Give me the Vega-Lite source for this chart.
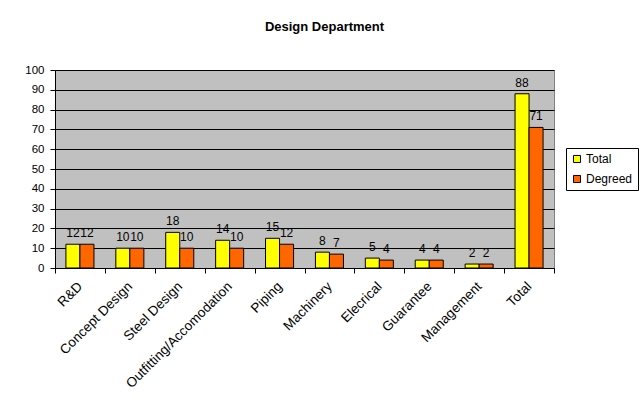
{
  "$schema": "https://vega.github.io/schema/vega-lite/v6.json",
  "width": 499,
  "height": 198,
  "autosize": {"type": "none"},
  "padding": {"left": 55, "top": 70, "right": 86, "bottom": 135},
  "background": "#ffffff",
  "title": {
    "text": "Design Department",
    "fontSize": 13,
    "fontWeight": "bold",
    "font": "Liberation Sans",
    "color": "#000000",
    "anchor": "middle",
    "dx": 20,
    "offset": 20,
    "baseline": "alphabetic"
  },
  "config": {
    "font": "Liberation Sans",
    "view": {"fill": "#C0C0C0", "stroke": "#808080", "strokeWidth": 1}
  },
  "data": {
    "values": [
      {"category": "R&D", "series": "Total", "value": 12},
      {"category": "R&D", "series": "Degreed", "value": 12},
      {"category": "Concept Design", "series": "Total", "value": 10},
      {"category": "Concept Design", "series": "Degreed", "value": 10},
      {"category": "Steel Design", "series": "Total", "value": 18},
      {"category": "Steel Design", "series": "Degreed", "value": 10},
      {"category": "Outfitting/Accomodation", "series": "Total", "value": 14},
      {"category": "Outfitting/Accomodation", "series": "Degreed", "value": 10},
      {"category": "Piping", "series": "Total", "value": 15},
      {"category": "Piping", "series": "Degreed", "value": 12},
      {"category": "Machinery", "series": "Total", "value": 8},
      {"category": "Machinery", "series": "Degreed", "value": 7},
      {"category": "Elecrical", "series": "Total", "value": 5},
      {"category": "Elecrical", "series": "Degreed", "value": 4},
      {"category": "Guarantee", "series": "Total", "value": 4},
      {"category": "Guarantee", "series": "Degreed", "value": 4},
      {"category": "Management", "series": "Total", "value": 2},
      {"category": "Management", "series": "Degreed", "value": 2},
      {"category": "Total", "series": "Total", "value": 88},
      {"category": "Total", "series": "Degreed", "value": 71}
    ]
  },
  "encoding": {
    "x": {
      "field": "category",
      "type": "nominal",
      "sort": null,
      "scale": {"paddingInner": 0, "paddingOuter": 0},
      "axis": {
        "title": null,
        "labelAngle": -45,
        "labelFontSize": 13.5,
        "labelColor": "#000000",
        "labelPadding": 6,
        "labelOffset": -5,
        "tickBand": "extent",
        "tickSize": 5,
        "tickColor": "#000000",
        "domainColor": "#000000",
        "grid": false
      }
    },
    "xOffset": {
      "field": "series",
      "type": "nominal",
      "sort": ["Total", "Degreed"],
      "scale": {"paddingInner": 0, "paddingOuter": 0.78}
    },
    "y": {
      "field": "value",
      "type": "quantitative",
      "scale": {"domain": [0, 100], "nice": false},
      "axis": {
        "title": null,
        "values": [0, 10, 20, 30, 40, 50, 60, 70, 80, 90, 100],
        "labelFontSize": 11.5,
        "labelColor": "#000000",
        "labelPadding": 6,
        "tickSize": 5,
        "tickColor": "#000000",
        "domainColor": "#000000",
        "grid": true,
        "gridColor": "#000000",
        "gridOpacity": 1,
        "gridWidth": 1
      }
    }
  },
  "layer": [
    {
      "mark": {"type": "bar", "stroke": "#000000", "strokeWidth": 1},
      "encoding": {
        "color": {
          "field": "series",
          "type": "nominal",
          "sort": ["Total", "Degreed"],
          "scale": {"domain": ["Total", "Degreed"], "range": ["#FFFF00", "#FF6600"]},
          "legend": {
            "title": null,
            "orient": "none",
            "legendX": 511,
            "legendY": 78,
            "strokeColor": "#000000",
            "fillColor": "#ffffff",
            "padding": 5,
            "rowPadding": 8,
            "symbolType": "square",
            "symbolSize": 50,
            "symbolStrokeColor": "#000000",
            "symbolStrokeWidth": 1,
            "labelFontSize": 12,
            "labelColor": "#000000",
            "labelOffset": 3
          }
        }
      }
    },
    {
      "mark": {"type": "text", "baseline": "alphabetic", "dy": -7, "fontSize": 12, "color": "#000000"},
      "encoding": {
        "text": {"field": "value", "type": "quantitative"}
      }
    }
  ]
}
